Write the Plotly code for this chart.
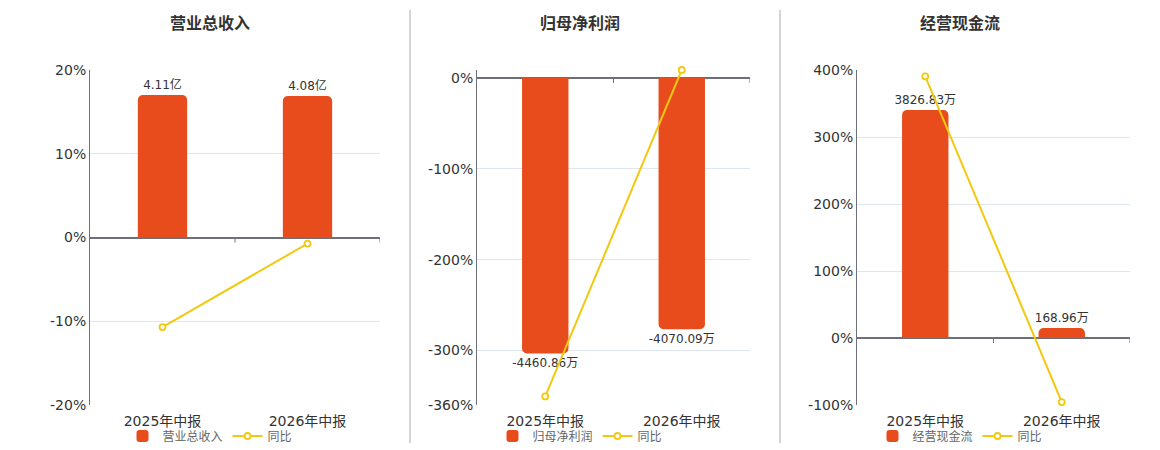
import plotly.graph_objects as go

# ── 数据 ──────────────────────────────────────────────
periods = ["2025年中报", "2026年中报"]

titles = ["营业总收入", "归母净利润", "经营现金流"]
units = ["亿", "万", "万"]

revenue = [4.11, 4.08]            # 亿
revenue_yoy = [-10.7, -0.73]      # %

net_profit = [-4460.86, -4070.09]  # 万
net_profit_yoy = [-350.6, 8.76]    # %

cash_flow = [3826.83, 168.96]      # 万
cash_flow_yoy = [390.6, -95.58]    # %

# 百分比轴刻度 / 范围
pct_ticks = [[-20, -10, 0, 10, 20],
             [-360, -300, -200, -100, 0],
             [-100, 0, 100, 200, 300, 400]]
pct_range = [[-20, 20], [-360, 8.76], [-100, 400]]
# 柱状轴与百分比轴的比例 (每 1% 对应的数值)
bar_per_pct = [0.2415, 14.71, 11.25]

BAR = "#E84C1C"
LINE = "#F2C811"
AXIS = "#6E7079"
GRID = "#E0E6F1"
FONT = "DejaVu Sans, Noto Sans CJK SC"

x_domains = [[90 / 1160, 380 / 1160],
             [477 / 1160, 750 / 1160],
             [857 / 1160, 1130 / 1160]]
center_x = [210 / 1160, 580 / 1160, 960 / 1160]
y_domain = [1 - 405 / 450, 1 - 70 / 450]

values = [revenue, net_profit, cash_flow]
yoys = [revenue_yoy, net_profit_yoy, cash_flow_yoy]

fig = go.Figure()
layout = dict(
    width=1160, height=450,
    margin=dict(l=0, r=0, t=0, b=0, autoexpand=False),
    paper_bgcolor="white", plot_bgcolor="white",
    font=dict(family=FONT, color="#333"),
    annotations=[], shapes=[],
)

for i in range(3):
    n = i + 1
    xa = "x" if n == 1 else f"x{n}"
    ya_bar = "y" if n == 1 else f"y{2 * n - 1}"
    ya_pct = f"y{2 * n}"
    lg = "legend" if n == 1 else f"legend{n}"
    k = bar_per_pct[i]

    fig.add_trace(go.Bar(
        x=periods, y=values[i], name=titles[i],
        xaxis=xa, yaxis=ya_bar, legend=lg,
        width=0.34,
        marker=dict(color=BAR, cornerradius=5, line=dict(width=0)),
        text=[f"{v:.2f}{units[i]}" for v in values[i]],
        textposition="outside", cliponaxis=False, constraintext="none",
        textfont=dict(size=12, color="#333"),
    ))
    fig.add_trace(go.Scatter(
        x=periods, y=yoys[i], name="同比",
        xaxis=xa, yaxis=ya_pct, legend=lg,
        mode="lines+markers", cliponaxis=False,
        line=dict(color=LINE, width=2),
        marker=dict(symbol="circle", size=6, color="white",
                    line=dict(color=LINE, width=1.8)),
    ))

    lo, hi = pct_range[i]
    grid_vals = sorted(set([t * k for t in pct_ticks[i]] + [hi * k]))

    layout["xaxis" if n == 1 else f"xaxis{n}"] = dict(
        domain=x_domains[i], anchor=ya_bar,
        type="category", showgrid=False, showline=False,
        ticks="", tickfont=dict(size=14, color="#333"),
        ticklabelstandoff=6,
        range=[-0.5, 1.5],
    )
    layout["yaxis" if n == 1 else f"yaxis{2 * n - 1}"] = dict(
        domain=y_domain, anchor=xa,
        range=[lo * k, hi * k],
        tickmode="array", tickvals=grid_vals,
        showticklabels=False, ticks="",
        showgrid=True, gridcolor=GRID, gridwidth=1,
        zeroline=True, zerolinecolor=AXIS, zerolinewidth=1.5,
        showline=False,
    )
    layout[f"yaxis{2 * n}"] = dict(
        overlaying=ya_bar, anchor=xa, side="left",
        range=[lo, hi],
        tickmode="array", tickvals=pct_ticks[i],
        ticktext=[f"{t}%" for t in pct_ticks[i]],
        tickfont=dict(size=14, color="#333"),
        showgrid=False, zeroline=False,
        showline=True, linecolor=AXIS, linewidth=1,
        ticks="",
    )
    layout[lg] = dict(
        orientation="h", x=center_x[i],
        xanchor="center", y=1 - 436 / 450, yanchor="middle",
        font=dict(size=12, color="#666"), bgcolor="rgba(0,0,0,0)",
        itemwidth=30, tracegroupgap=0,
    )
    layout["annotations"].append(dict(
        text=f"<b>{titles[i]}</b>", x=center_x[i], y=1 - 22 / 450,
        xref="paper", yref="paper", showarrow=False,
        xanchor="center", yanchor="middle",
        font=dict(size=16, color="#333", family="Noto Sans CJK SC"),
    ))
    # 零轴上的分类刻度
    tick_len = (hi - lo) * k * 5 / 335
    for bx in [0.5, 1.5]:
        layout["shapes"].append(dict(
            type="line", xref=xa, yref=ya_bar, x0=bx, x1=bx,
            y0=0, y1=-tick_len, line=dict(color=AXIS, width=1),
        ))

# 面板分隔线
for sx in [410, 780]:
    layout["shapes"].append(dict(
        type="line", xref="paper", yref="paper",
        x0=sx / 1160, x1=sx / 1160, y0=1 - 443 / 450, y1=1 - 10 / 450,
        line=dict(color="#AAAAAA", width=1),
    ))

fig.update_layout(**layout)
fig.write_html("out.html", config={"displayModeBar": False},
               post_script="document.body.style.margin='0';")
